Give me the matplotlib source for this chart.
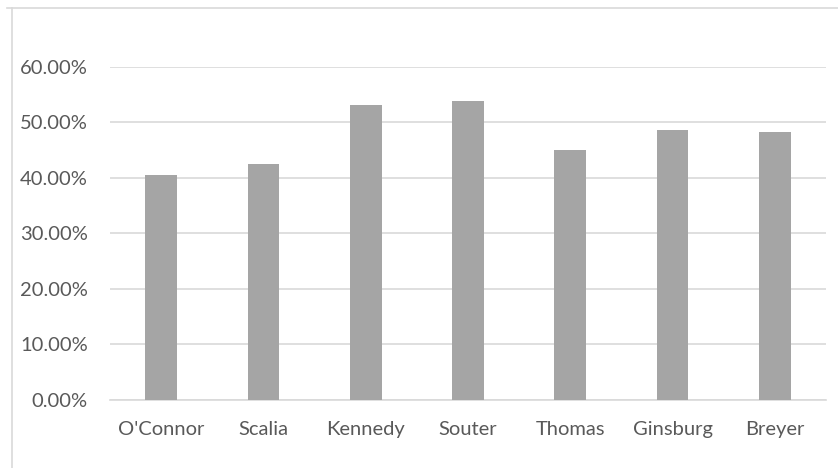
import matplotlib.pyplot as plt
from matplotlib.lines import Line2D
from matplotlib.ticker import PercentFormatter

justices = ["O'Connor", "Scalia", "Kennedy", "Souter", "Thomas", "Ginsburg", "Breyer"]
share = [0.405, 0.425, 0.530, 0.538, 0.450, 0.485, 0.482]
y_ticks = [0.0, 0.1, 0.2, 0.3, 0.4, 0.5, 0.6]

plt.rcParams['font.family'] = ['Lato', 'DejaVu Sans']
text_color = '#595959'
grid_color = '#d9d9d9'

W, H = 838, 468
fig = plt.figure(figsize=(W / 100, H / 100), dpi=100)
ax = fig.add_axes([110 / W, (H - 400) / H, (826 - 110) / W, (400 - 66.5) / H])

ax.bar(range(len(justices)), share, width=0.31, color='#a5a5a5', zorder=3)
ax.set_xlim(-0.5, len(justices) - 0.5)
ax.set_ylim(0, 0.6)

ax.set_yticks(y_ticks)
ax.yaxis.set_major_formatter(PercentFormatter(1.0, decimals=2))
ax.set_xticks(range(len(justices)))
ax.set_xticklabels(justices)

ax.grid(axis='y', color=grid_color, linewidth=1.2, zorder=0)
for side in ['top', 'right', 'left']:
    ax.spines[side].set_visible(False)
ax.spines['bottom'].set_color(grid_color)
ax.spines['bottom'].set_linewidth(1.2)

ax.tick_params(axis='both', length=0, labelsize=14.5, labelcolor=text_color)
ax.tick_params(axis='y', pad=16)
ax.tick_params(axis='x', pad=15)

# chart frame (top and left edges)
fig.add_artist(Line2D([7 / W, 1], [1 - 8 / H, 1 - 8 / H], color=grid_color, linewidth=1.2))
fig.add_artist(Line2D([12 / W, 12 / W], [1 - 8 / H, 0], color=grid_color, linewidth=1.2))

fig.savefig('out.png', dpi=100)
